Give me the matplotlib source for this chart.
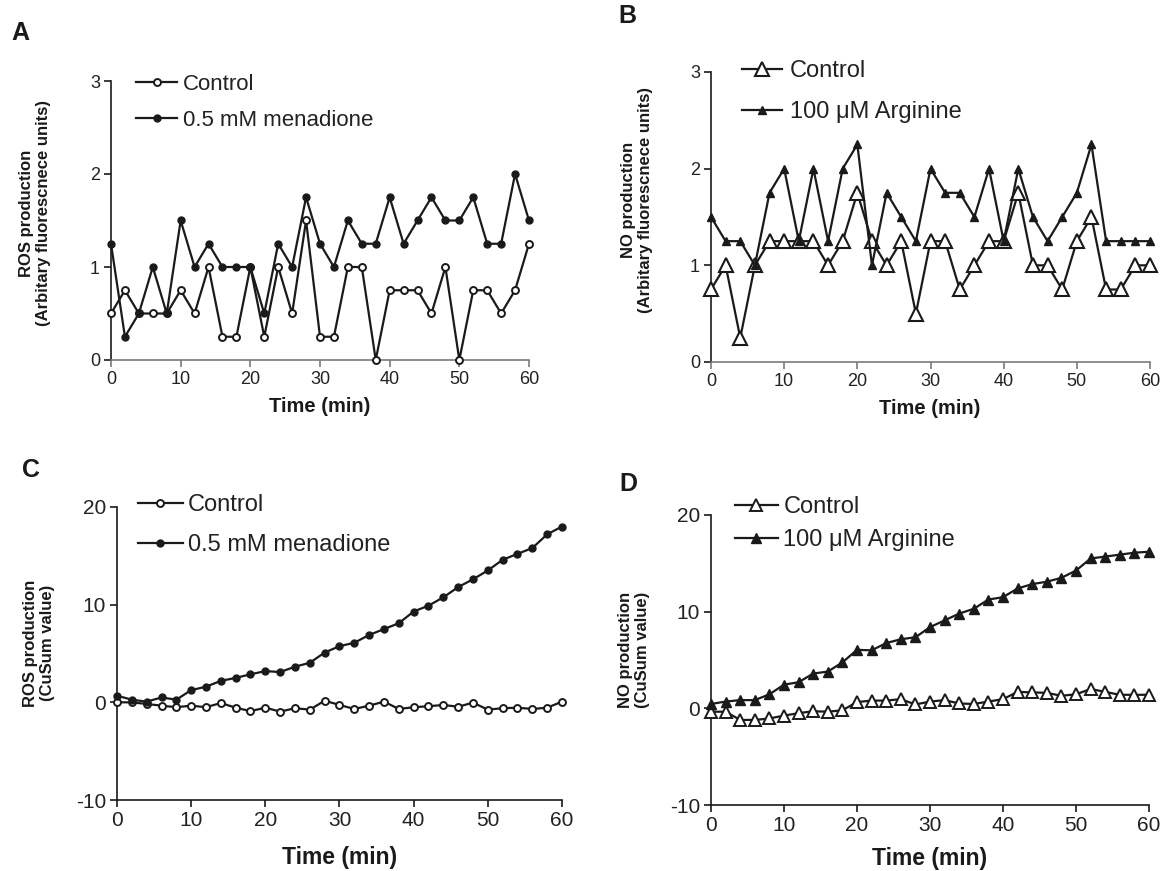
import matplotlib
matplotlib.use("Agg")
import matplotlib.pyplot as plt

plt.rcParams['font.family'] = ['Liberation Sans', 'DejaVu Sans']
plt.rcParams['axes.unicode_minus'] = False

# time points (min)
time_min = [0, 2, 4, 6, 8, 10, 12, 14, 16, 18, 20, 22, 24, 26, 28, 30,
            32, 34, 36, 38, 40, 42, 44, 46, 48, 50, 52, 54, 56, 58, 60]

# A: ROS production (arbitrary fluorescence units)
ros_control = [0.5, 0.75, 0.5, 0.5, 0.5, 0.75, 0.5, 1.0, 0.25, 0.25, 1.0,
               0.25, 1.0, 0.5, 1.5, 0.25, 0.25, 1.0, 1.0, 0.0, 0.75, 0.75,
               0.75, 0.5, 1.0, 0.0, 0.75, 0.75, 0.5, 0.75, 1.25]
ros_menadione = [1.25, 0.25, 0.5, 1.0, 0.5, 1.5, 1.0, 1.25, 1.0, 1.0, 1.0,
                 0.5, 1.25, 1.0, 1.75, 1.25, 1.0, 1.5, 1.25, 1.25, 1.75, 1.25,
                 1.5, 1.75, 1.5, 1.5, 1.75, 1.25, 1.25, 2.0, 1.5]

# B: NO production (arbitrary fluorescence units)
no_control = [0.75, 1.0, 0.25, 1.0, 1.25, 1.25, 1.25, 1.25, 1.0, 1.25, 1.75,
              1.25, 1.0, 1.25, 0.5, 1.25, 1.25, 0.75, 1.0, 1.25, 1.25, 1.75,
              1.0, 1.0, 0.75, 1.25, 1.5, 0.75, 0.75, 1.0, 1.0]
no_arginine = [1.5, 1.25, 1.25, 1.0, 1.75, 2.0, 1.25, 2.0, 1.25, 2.0, 2.25,
               1.0, 1.75, 1.5, 1.25, 2.0, 1.75, 1.75, 1.5, 2.0, 1.25, 2.0,
               1.5, 1.25, 1.5, 1.75, 2.25, 1.25, 1.25, 1.25, 1.25]

# C: ROS CuSum
ros_cusum_control = [0.0, 0.0, -0.17, -0.34, -0.5, -0.34, -0.5, -0.07, -0.55,
                     -0.9, -0.55, -0.95, -0.6, -0.75, 0.17, -0.27, -0.68,
                     -0.34, 0.07, -0.68, -0.5, -0.4, -0.27, -0.45, -0.03,
                     -0.75, -0.6, -0.55, -0.68, -0.55, 0.07]
ros_cusum_menadione = [0.68, 0.27, 0.07, 0.5, 0.27, 1.25, 1.6, 2.2, 2.5, 2.87,
                       3.2, 3.1, 3.65, 4.05, 5.1, 5.75, 6.1, 6.9, 7.5, 8.1,
                       9.3, 9.9, 10.75, 11.8, 12.6, 13.5, 14.6, 15.2, 15.8,
                       17.2, 18.0]

# D: NO CuSum
no_cusum_control = [-0.35, -0.35, -1.2, -1.2, -1.05, -0.75, -0.5, -0.3, -0.35,
                    -0.2, 0.65, 0.8, 0.8, 0.95, 0.4, 0.7, 0.85, 0.5, 0.45,
                    0.7, 0.95, 1.7, 1.65, 1.6, 1.3, 1.45, 2.0, 1.7, 1.4, 1.4,
                    1.4]
no_cusum_arginine = [0.45, 0.7, 0.85, 0.85, 1.45, 2.45, 2.7, 3.6, 3.8, 4.75,
                     6.05, 6.0, 6.75, 7.15, 7.35, 8.4, 9.1, 9.8, 10.3, 11.25,
                     11.5, 12.4, 12.85, 13.1, 13.5, 14.25, 15.5, 15.7, 15.9,
                     16.1, 16.2]

W, H = 1164, 871
fig = plt.figure(figsize=(W / 100, H / 100), dpi=100)
k = '#1a1a1a'
lw = 1.6


def rect(l, r, t, b):
    return [l / W, 1 - b / H, (r - l) / W, (b - t) / H]


def style_axes(ax, ylim, yticks, xcolor, size):
    ax.set_xlim(0, 60)
    ax.set_ylim(*ylim)
    ax.set_xticks([0, 10, 20, 30, 40, 50, 60])
    ax.set_yticks(yticks)
    for s in ['top', 'right']:
        ax.spines[s].set_visible(False)
    ax.spines['left'].set_linewidth(1.2)
    ax.spines['left'].set_color(k)
    ax.spines['bottom'].set_linewidth(1.2)
    ax.spines['bottom'].set_color(xcolor)
    ax.tick_params(axis='both', direction='out', length=5, width=1.2,
                   labelsize=size, pad=3, labelcolor='#222222', color=k)
    ax.tick_params(axis='x', color=xcolor)


def legend(ax, handles, x, y, size, spacing, hlen, tpad):
    ax.legend(handles=handles, loc='upper left',
              bbox_to_anchor=(x / W, 1 - y / H), bbox_transform=fig.transFigure,
              frameon=False, borderpad=0, borderaxespad=0, handlelength=hlen,
              handletextpad=tpad, labelspacing=spacing, fontsize=size,
              labelcolor='#222222')


# ---------- A ----------
axA = fig.add_axes(rect(111, 529, 81, 360))
lA1, = axA.plot(time_min, ros_control, color=k, lw=lw, marker='o', ms=5,
                mfc='white', mec=k, mew=1.4, clip_on=False, zorder=3,
                label='Control')
lA2, = axA.plot(time_min, ros_menadione, color=k, lw=lw, marker='o', ms=5,
                mfc=k, mec=k, clip_on=False, zorder=3,
                label='0.5 mM menadione')
style_axes(axA, (0, 3), [0, 1, 2, 3], '#7a7a7a', 13)
legend(axA, [lA1, lA2], 136, 74, 16, 0.68, 1.85, 0.25)

# ---------- B ----------
axB = fig.add_axes(rect(711, 1150, 72, 362))
lB1, = axB.plot(time_min, no_control, color=k, lw=lw, marker='^', ms=9.5,
                mfc='white', mec=k, mew=1.5, clip_on=False, zorder=3,
                label='Control')
lB2, = axB.plot(time_min, no_arginine, color=k, lw=lw, marker='^', ms=6,
                mfc=k, mec=k, clip_on=False, zorder=3,
                label='100 μM Arginine')
style_axes(axB, (0, 3), [0, 1, 2, 3], '#7a7a7a', 13)
legend(axB, [lB1, lB2], 742, 60, 17, 0.82, 1.7, 0.34)

# ---------- C ----------
axC = fig.add_axes(rect(117, 562, 507, 800))
lC1, = axC.plot(time_min, ros_cusum_control, color=k, lw=lw, marker='o',
                ms=5, mfc='white', mec=k, mew=1.4, clip_on=False, zorder=3,
                label='Control')
lC2, = axC.plot(time_min, ros_cusum_menadione, color=k, lw=lw, marker='o',
                ms=5, mfc=k, mec=k, clip_on=False, zorder=3,
                label='0.5 mM menadione')
style_axes(axC, (-10, 20), [-10, 0, 10, 20], k, 15)
legend(axC, [lC1, lC2], 138, 494, 17, 0.78, 1.9, 0.2)

# ---------- D ----------
axD = fig.add_axes(rect(711, 1149, 515, 805))
lD1, = axD.plot(time_min, no_cusum_control, color=k, lw=lw, marker='^',
                ms=8, mfc='white', mec=k, mew=1.4, clip_on=False, zorder=3,
                label='Control')
lD2, = axD.plot(time_min, no_cusum_arginine, color=k, lw=lw, marker='^',
                ms=6.5, mfc=k, mec=k, clip_on=False, zorder=3,
                label='100 μM Arginine')
style_axes(axD, (-10, 20), [-10, 0, 10, 20], k, 15)
legend(axD, [lD1, lD2], 735, 496, 17, 0.48, 1.8, 0.25)

# axis titles
lab = dict(fontsize=12, fontweight='bold', rotation=90, ha='center',
           va='center', multialignment='center', color=k)
fig.text(35 / W, 1 - 213 / H, 'ROS production\n(Arbitary fluorescnece units)', **lab)
fig.text(637 / W, 1 - 200 / H, 'NO production\n(Arbitary fluorescnece units)', **lab)
fig.text(39 / W, 1 - 643 / H, 'ROS production\n(CuSum value)', **lab)
fig.text(634 / W, 1 - 650 / H, 'NO production\n(CuSum value)', **lab)

fig.text(320 / W, 1 - 406 / H, 'Time (min)', fontsize=14.5,
         fontweight='bold', ha='center', va='center', color=k)
fig.text(930 / W, 1 - 408 / H, 'Time (min)', fontsize=14.5,
         fontweight='bold', ha='center', va='center', color=k)
fig.text(340 / W, 1 - 857 / H, 'Time (min)', fontsize=16.5,
         fontweight='bold', ha='center', va='center', color=k)
fig.text(930 / W, 1 - 858 / H, 'Time (min)', fontsize=16.5,
         fontweight='bold', ha='center', va='center', color=k)

pl = dict(fontsize=18, fontweight='bold', ha='center', va='center', color=k)
fig.text(20 / W, 1 - 33 / H, 'A', **pl)
fig.text(627 / W, 1 - 16 / H, 'B', **pl)
fig.text(31 / W, 1 - 470 / H, 'C', **pl)
fig.text(628 / W, 1 - 484 / H, 'D', **pl)

fig.savefig('out.png', dpi=100)
